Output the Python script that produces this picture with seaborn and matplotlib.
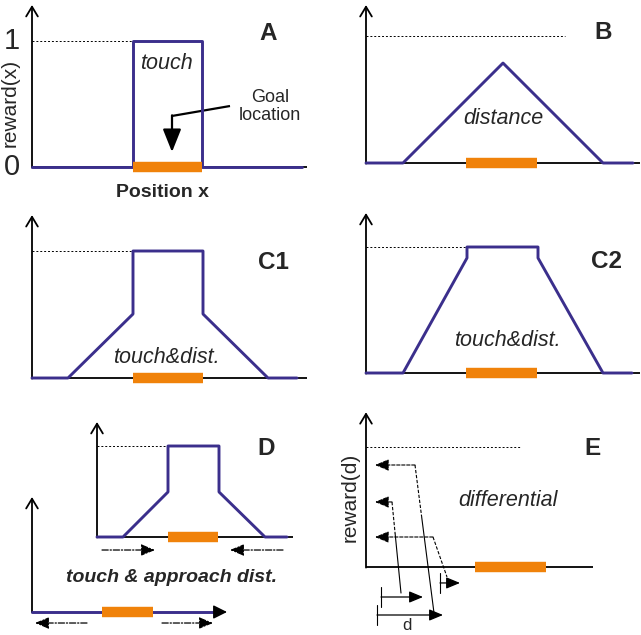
import numpy as np
import pandas as pd
import matplotlib
matplotlib.use("Agg")
import matplotlib.pyplot as plt
import seaborn as sns

sns.set_theme(style="white")
plt.rcParams['font.family'] = ['Liberation Sans', 'DejaVu Sans']

PURPLE = '#3b2f8c'
ORANGE = '#f0820a'

# ---------------- data (position units, reward relative to max) ----------------
A_x = [0, 10.1, 10.1, 17.0, 17.0, 27.0]
A_reward = [0, 0, 1, 1, 0, 0]
A_goal = [10.1, 17.0]

B_x = [0, 3.7, 13.7, 23.7, 26.7]
B_reward = [0, 0, 0.787, 0, 0]
B_goal = [10.0, 17.1]

C1_x = [0, 3.6, 10.1, 10.1, 17.1, 17.1, 23.6, 26.5]
C1_reward = [0, 0, 0.504, 1, 1, 0.504, 0, 0]
C1_goal = [10.1, 17.1]

C2_x = [0, 3.7, 10.1, 10.1, 17.2, 17.2, 23.7, 26.6]
C2_reward = [0, 0, 0.913, 1, 1, 0.913, 0, 0]
C2_goal = [10.0, 17.1]

D_x = [0, 2.6, 7.1, 7.1, 12.2, 12.2, 16.8, 19.0]
D_reward = [0, 0, 0.495, 1, 1, 0.495, 0, 0]
D_goal = [7.1, 12.1]
D_low_x = [0, 18.8]
D_low_reward = [0, 0]
D_low_goal = [7.0, 12.1]

E_goal = [10.9, 18.0]
E_fb_reward = [0.85, 0.542, 0.25]        # reward level fed back
E_fb_start = [1.1, 1.5, 7.4]            # start of distance bar
E_fb_end = [7.7, 5.7, 9.4]              # end of distance bar
E_fb_level = [-0.40, -0.25, -0.133]     # bar levels under the axis
E_fb_corner = [4.9, 2.6, 6.7]           # corner where line turns to reward axis
E_fb_bottom = [6.8, 3.5, 8.1]           # bottom end of slanted connector
E_fb_bottom_y = [-0.383, -0.217, -0.083]

W, H = 641, 635
fig = plt.figure(figsize=(W / 100, H / 100), dpi=100)
fig.patch.set_facecolor('white')


def panel(ox, oy, ry):
    ax = fig.add_axes([0, 0, 1, 1])
    ax.patch.set_alpha(0)
    ax.set_axis_off()
    ax._lims = ((-ox / 10, (W - ox) / 10), ((oy - H) / ry, oy / ry))
    return ax


def finish(ax):
    ax.set_xlim(*ax._lims[0])
    ax.set_ylim(*ax._lims[1])


def axes_lines(ax, ytop, xend, xaxis=True):
    ax.annotate('', xy=(0, ytop), xytext=(0, -0.005),
                arrowprops=dict(arrowstyle='->,head_length=0.5,head_width=0.3', lw=1.3,
                                color='black', shrinkA=0, shrinkB=0, mutation_scale=14),
                zorder=2)
    if xaxis:
        ax.plot([0, xend], [0, 0], color='black', lw=1.3, zorder=2, solid_capstyle='butt')


def profile(ax, x, y):
    df = pd.DataFrame({'position': x, 'reward': y})
    sns.lineplot(data=df, x='position', y='reward', ax=ax, sort=False, estimator=None,
                 color=PURPLE, lw=2.1, zorder=3)
    ax.set_xlabel('')
    ax.set_ylabel('')


def goal(ax, g):
    ax.plot(g, [0, 0], color=ORANGE, lw=7.5, solid_capstyle='butt', zorder=4)


def dashed(ax, x1, y=1.0):
    ax.plot([0, x1], [y, y], color='black', lw=0.7, ls=(0, (2.0, 2.0)), zorder=1)


def letter(ax, x, y, s, size=17.5):
    ax.text(x, y, s, fontsize=size, fontweight='bold', ha='center', va='center')


def italic(ax, x, y, s, size=15.5, weight='normal'):
    ax.text(x, y, s, fontsize=size, fontstyle='italic', fontweight=weight,
            ha='center', va='center', zorder=5)


def harrow(ax, x0, x1, y, ls=(0, (5, 1.5, 1, 1.5)), lw=0.9):
    ax.annotate('', xy=(x1, y), xytext=(x0, y),
                arrowprops=dict(arrowstyle='-|>,head_length=0.6,head_width=0.25', lw=lw,
                                ls=ls, color='black', shrinkA=0, shrinkB=0,
                                mutation_scale=14))


# ---------------- Panel A ----------------
ax = panel(32, 167, 126)
axes_lines(ax, 1.286, 27.5)
dashed(ax, A_x[1])
profile(ax, A_x, A_reward)
goal(ax, A_goal)
ax.text(-2.0, 1, '1', fontsize=21, ha='center', va='center')
ax.text(-2.0, 0, '0', fontsize=21, ha='center', va='center')
ax.text(-2.2, 0.51, 'reward(x)', fontsize=15, rotation=90, ha='center', va='center')
italic(ax, 13.4, 0.825, 'touch')
ax.text(23.8, 0.48, 'Goal\nlocation', fontsize=13, ha='center', va='center', linespacing=1.05)
ax.plot([19.8, 14.0], [0.484, 0.405], color='black', lw=1.6, solid_capstyle='butt')
ax.annotate('', xy=(14.0, 0.119), xytext=(14.0, 0.41),
            arrowprops=dict(arrowstyle='-|>,head_length=1.0,head_width=0.4', lw=1.6,
                            color='black', shrinkA=0, shrinkB=0, mutation_scale=14))
letter(ax, 23.6, 1.063, 'A')
ax.text(13.1, -0.206, 'Position x', fontsize=14, fontweight='bold', ha='center', va='center')
finish(ax)

# ---------------- Panel B ----------------
ax = panel(366, 163, 127)
axes_lines(ax, 1.244, 27.4)
dashed(ax, 19.9)
profile(ax, B_x, B_reward)
goal(ax, B_goal)
letter(ax, 23.7, 1.03, 'B')
italic(ax, 13.7, 0.354, 'distance')
finish(ax)

# ---------------- Panel C1 ----------------
ax = panel(32, 378, 127)
axes_lines(ax, 1.283, 27.5)
dashed(ax, C1_x[3])
profile(ax, C1_x, C1_reward)
goal(ax, C1_goal)
letter(ax, 24.1, 0.913, 'C1', 17.5)
italic(ax, 13.4, 0.165, 'touch&dist.')
finish(ax)

# ---------------- Panel C2 ----------------
ax = panel(366, 373, 126)
axes_lines(ax, 1.27, 27.4)
dashed(ax, C2_x[3])
profile(ax, C2_x, C2_reward)
goal(ax, C2_goal)
letter(ax, 24.1, 0.881, 'C2', 17.5)
italic(ax, 14.1, 0.254, 'touch&dist.')
finish(ax)

# ---------------- Panel D (upper) ----------------
ax = panel(97, 537, 91)
axes_lines(ax, 1.264, 19.6)
dashed(ax, D_x[3])
profile(ax, D_x, D_reward)
goal(ax, D_goal)
letter(ax, 16.9, 0.978, 'D')
harrow(ax, 0.5, 5.8, -0.143)
harrow(ax, 18.6, 13.3, -0.143)
italic(ax, 7.5, -0.45, 'touch & approach dist.', size=14, weight='bold')
finish(ax)

# ---------------- Panel D (lower) ----------------
ax = panel(32, 612, 91)
axes_lines(ax, 1.264, 0, xaxis=False)
profile(ax, D_low_x, D_low_reward)
ax.annotate('', xy=(19.5, 0), xytext=(18.6, 0),
            arrowprops=dict(arrowstyle='-|>,head_length=0.6,head_width=0.3', lw=1.0,
                            color='black', shrinkA=0, shrinkB=0, mutation_scale=14), zorder=4)
goal(ax, D_low_goal)
harrow(ax, 5.5, 0.3, -0.121)
harrow(ax, 13.0, 18.1, -0.121)
finish(ax)

# ---------------- Panel E ----------------
ax = panel(366, 567, 120)
axes_lines(ax, 1.29, 22.7)
dashed(ax, 15.4)
goal(ax, E_goal)
letter(ax, 22.6, 0.99, 'E')
ax.text(-1.6, 0.583, 'reward(d)', fontsize=15, rotation=90, ha='center', va='center')
italic(ax, 14.2, 0.55, 'differential')
for i in range(3):
    r = E_fb_reward[i]
    # feedback arrow to the reward axis
    harrow(ax, E_fb_corner[i], 0.9, r, ls=(0, (3, 1.5)), lw=0.8)
    # slanted connector from distance bar to the reward level
    xc, yc = E_fb_corner[i], r
    xb, yb = E_fb_bottom[i], E_fb_bottom_y[i]
    if i < 2:
        xm, ym = xc + 0.35 * (xb - xc), yc + 0.35 * (yb - yc)
        ax.plot([xc, xm], [yc, ym], color='black', lw=0.8, ls=(0, (3, 1.5)))
        ax.plot([xm, xb], [ym, yb], color='black', lw=0.8)
    else:
        ax.plot([xc, xb], [yc, yb], color='black', lw=0.8, ls=(0, (3, 1.5)))
    # distance bar
    lv = E_fb_level[i]
    ax.plot([E_fb_start[i], E_fb_start[i]], [lv + 0.085, lv - 0.085], color='black', lw=0.8)
    harrow(ax, E_fb_start[i], E_fb_end[i], lv, ls='-', lw=0.9)
ax.text(4.1, -0.49, 'd', fontsize=12, ha='center', va='center')
finish(ax)

fig.savefig('out.png', dpi=100, facecolor='white')
